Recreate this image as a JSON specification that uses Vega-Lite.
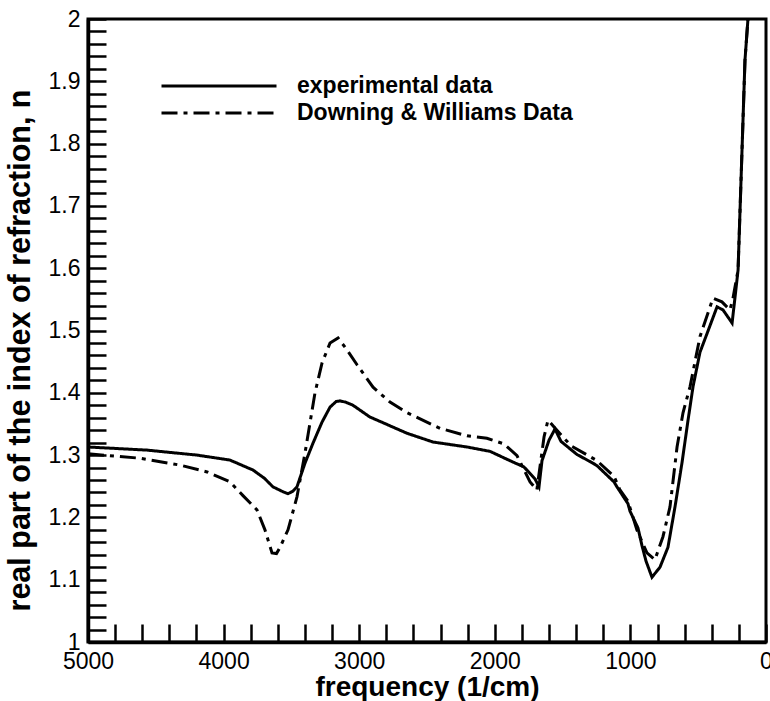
{
  "$schema": "https://vega.github.io/schema/vega-lite/v6.json",
  "width": 678,
  "height": 623,
  "autosize": {"type": "none"},
  "padding": {"left": 88, "top": 19, "right": 4, "bottom": 59},
  "background": "white",
  "config": {
    "view": {"stroke": "black", "strokeWidth": 3},
    "font": "Liberation Sans",
    "legend": {
      "orient": "none",
      "legendX": 118,
      "legendY": 54,
      "padding": 0,
      "symbolType": "M-5,0H5",
      "symbolSize": 529,
      "symbolStrokeWidth": 3,
      "symbolStrokeColor": "black",
      "symbolFillColor": "transparent",
      "labelFont": "Liberation Sans",
      "labelFontSize": 23,
      "labelFontWeight": "bold",
      "labelColor": "black",
      "labelOffset": 65,
      "labelLimit": 400,
      "rowPadding": 2
    }
  },
  "datasets": {
    "exp": [
      {"f": 5000, "n": 1.313}, {"f": 4565, "n": 1.308}, {"f": 4196, "n": 1.300}, {"f": 3953, "n": 1.292},
      {"f": 3783, "n": 1.276}, {"f": 3700, "n": 1.263}, {"f": 3636, "n": 1.249}, {"f": 3560, "n": 1.241},
      {"f": 3525, "n": 1.238}, {"f": 3490, "n": 1.242}, {"f": 3459, "n": 1.249}, {"f": 3400, "n": 1.287},
      {"f": 3341, "n": 1.319}, {"f": 3274, "n": 1.353}, {"f": 3215, "n": 1.377}, {"f": 3170, "n": 1.386},
      {"f": 3142, "n": 1.387}, {"f": 3100, "n": 1.385}, {"f": 3046, "n": 1.380}, {"f": 2920, "n": 1.361},
      {"f": 2825, "n": 1.352}, {"f": 2647, "n": 1.335}, {"f": 2456, "n": 1.321}, {"f": 2205, "n": 1.313},
      {"f": 2035, "n": 1.306}, {"f": 1888, "n": 1.291}, {"f": 1785, "n": 1.281}, {"f": 1704, "n": 1.262},
      {"f": 1674, "n": 1.249}, {"f": 1652, "n": 1.291}, {"f": 1600, "n": 1.324}, {"f": 1556, "n": 1.342},
      {"f": 1512, "n": 1.322}, {"f": 1394, "n": 1.301}, {"f": 1276, "n": 1.287}, {"f": 1246, "n": 1.283},
      {"f": 1121, "n": 1.257}, {"f": 1099, "n": 1.249}, {"f": 1018, "n": 1.222}, {"f": 1003, "n": 1.210},
      {"f": 944, "n": 1.183}, {"f": 915, "n": 1.155}, {"f": 885, "n": 1.130}, {"f": 841, "n": 1.104},
      {"f": 782, "n": 1.120}, {"f": 723, "n": 1.152}, {"f": 671, "n": 1.217}, {"f": 620, "n": 1.287},
      {"f": 575, "n": 1.356}, {"f": 538, "n": 1.410}, {"f": 487, "n": 1.465}, {"f": 435, "n": 1.495},
      {"f": 361, "n": 1.538}, {"f": 317, "n": 1.533}, {"f": 250, "n": 1.512}, {"f": 225, "n": 1.560},
      {"f": 206, "n": 1.597}, {"f": 155, "n": 1.934}, {"f": 133, "n": 2.0}
    ],
    "dw": [
      {"f": 5000, "n": 1.302}, {"f": 4617, "n": 1.295}, {"f": 4322, "n": 1.284}, {"f": 4122, "n": 1.273},
      {"f": 3953, "n": 1.257}, {"f": 3857, "n": 1.235}, {"f": 3754, "n": 1.212}, {"f": 3695, "n": 1.180},
      {"f": 3643, "n": 1.143}, {"f": 3610, "n": 1.142}, {"f": 3584, "n": 1.152}, {"f": 3525, "n": 1.180},
      {"f": 3459, "n": 1.233}, {"f": 3400, "n": 1.303}, {"f": 3326, "n": 1.400}, {"f": 3274, "n": 1.448},
      {"f": 3215, "n": 1.480}, {"f": 3156, "n": 1.488}, {"f": 3090, "n": 1.469}, {"f": 3016, "n": 1.445},
      {"f": 2898, "n": 1.409}, {"f": 2773, "n": 1.385}, {"f": 2647, "n": 1.368}, {"f": 2404, "n": 1.343},
      {"f": 2205, "n": 1.331}, {"f": 2058, "n": 1.327}, {"f": 1932, "n": 1.318}, {"f": 1836, "n": 1.299},
      {"f": 1740, "n": 1.257}, {"f": 1690, "n": 1.244}, {"f": 1637, "n": 1.329}, {"f": 1608, "n": 1.356},
      {"f": 1590, "n": 1.352}, {"f": 1563, "n": 1.345}, {"f": 1438, "n": 1.315}, {"f": 1246, "n": 1.291},
      {"f": 1121, "n": 1.266}, {"f": 1077, "n": 1.244}, {"f": 1018, "n": 1.226}, {"f": 952, "n": 1.180},
      {"f": 878, "n": 1.143}, {"f": 819, "n": 1.132}, {"f": 760, "n": 1.169}, {"f": 708, "n": 1.217},
      {"f": 656, "n": 1.313}, {"f": 612, "n": 1.368}, {"f": 560, "n": 1.410}, {"f": 487, "n": 1.490},
      {"f": 391, "n": 1.552}, {"f": 325, "n": 1.546}, {"f": 266, "n": 1.533}, {"f": 245, "n": 1.550},
      {"f": 206, "n": 1.597}, {"f": 155, "n": 1.934}, {"f": 133, "n": 2.0}
    ]
  },
  "layer": [
    {
      "data": {"name": "exp"},
      "transform": [{"calculate": "'experimental data'", "as": "series"}],
      "mark": {"type": "line", "color": "black", "strokeWidth": 3, "clip": true},
      "encoding": {
        "x": {"field": "f", "type": "quantitative"},
        "y": {"field": "n", "type": "quantitative"},
        "strokeDash": {"field": "series", "type": "nominal"}
      }
    },
    {
      "data": {"name": "dw"},
      "transform": [{"calculate": "'Downing & Williams Data'", "as": "series"}],
      "mark": {"type": "line", "color": "black", "strokeWidth": 3, "clip": true},
      "encoding": {
        "x": {"field": "f", "type": "quantitative"},
        "y": {"field": "n", "type": "quantitative"},
        "strokeDash": {"field": "series", "type": "nominal"}
      }
    }
  ],
  "encoding": {
    "x": {
      "field": "f",
      "type": "quantitative",
      "scale": {"domain": [0, 5000], "reverse": true, "nice": false, "zero": false},
      "axis": {
        "values": [0, 200, 400, 600, 800, 1000, 1200, 1400, 1600, 1800, 2000, 2200, 2400, 2600, 2800, 3000, 3200, 3400, 3600, 3800, 4000, 4200, 4400, 4600, 4800, 5000],
        "format": "d",
        "labelExpr": "datum.value % 1000 === 0 ? datum.label : ''",
        "tickSize": -18,
        "tickWidth": 2.5,
        "tickColor": "black",
        "domainColor": "black",
        "domainWidth": 3.5,
        "grid": false,
        "labelFontSize": 23,
        "labelColor": "black",
        "labelPadding": 26,
        "labelOverlap": false,
        "labelFlush": false,
        "encode": {"ticks": {"update": {"y2": {"signal": "datum.value % 1000 === 0 ? -18 : -10"}}}},
        "title": "frequency (1/cm)",
        "titleFontSize": 28,
        "titleFontWeight": "bold",
        "titleColor": "black",
        "titleX": 339,
        "titleY": 53,
        "titleBaseline": "alphabetic",
        "titleAlign": "center"
      }
    },
    "y": {
      "field": "n",
      "type": "quantitative",
      "scale": {"domain": [1, 2], "nice": false, "zero": false},
      "axis": {
        "values": [1, 1.02, 1.04, 1.06, 1.08, 1.1, 1.12, 1.14, 1.16, 1.18, 1.2, 1.22, 1.24, 1.26, 1.28, 1.3, 1.32, 1.34, 1.36, 1.38, 1.4, 1.42, 1.44, 1.46, 1.48, 1.5, 1.52, 1.54, 1.56, 1.58, 1.6, 1.62, 1.64, 1.66, 1.68, 1.7, 1.72, 1.74, 1.76, 1.78, 1.8, 1.82, 1.84, 1.86, 1.88, 1.9, 1.92, 1.94, 1.96, 1.98, 2],
        "format": "~g",
        "labelExpr": "abs(datum.value * 10 - round(datum.value * 10)) < 0.001 ? datum.label : ''",
        "tickSize": -18,
        "tickWidth": 2.5,
        "tickColor": "black",
        "domainColor": "black",
        "domainWidth": 3.5,
        "grid": false,
        "labelFontSize": 23,
        "labelColor": "black",
        "labelPadding": 26,
        "labelOverlap": false,
        "labelFlush": false,
        "encode": {"ticks": {"update": {"x2": {"signal": "abs(datum.value * 10 - round(datum.value * 10)) < 0.001 ? 18 : 10"}}}},
        "title": "real part of the index of refraction, n",
        "titleFontSize": 30.5,
        "titleFontWeight": "bold",
        "titleColor": "black",
        "titleX": -59,
        "titleY": 331,
        "titleAngle": -90,
        "titleBaseline": "alphabetic",
        "titleAlign": "center"
      }
    },
    "strokeDash": {
      "field": "series",
      "type": "nominal",
      "scale": {"domain": ["experimental data", "Downing & Williams Data"], "range": [[1, 0], [16, 6, 4, 6]]},
      "legend": {"title": null}
    }
  }
}
